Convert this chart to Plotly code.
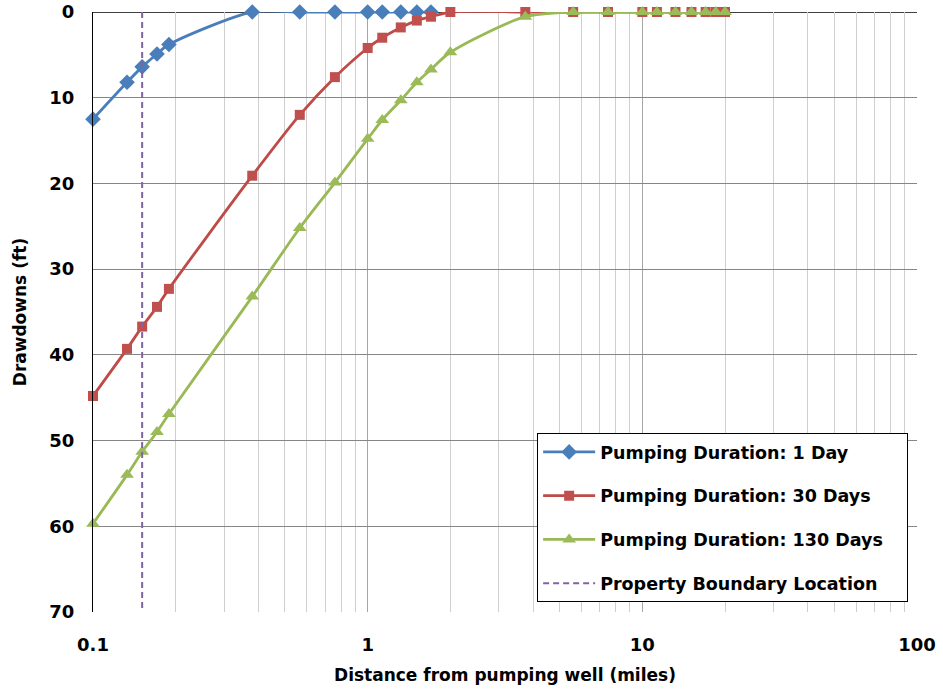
import plotly.graph_objects as go

# ---- data ----
dist_1day = [0.1, 0.133, 0.151, 0.171, 0.189, 0.38, 0.566, 0.76, 1.0, 1.13, 1.32, 1.51, 1.70]
dd_1day = [12.5, 8.2, 6.4, 4.9, 3.8, 0, 0, 0, 0, 0, 0, 0, 0]

dist_long = [0.1, 0.133, 0.151, 0.171, 0.189, 0.38, 0.566, 0.76, 1.0, 1.13, 1.32, 1.51, 1.70,
             2.0, 3.75, 5.6, 7.5, 10, 11.3, 13.2, 15.1, 17.0, 18.5, 20.0]
dd_30day = [44.8, 39.3, 36.7, 34.4, 32.3, 19.1, 12.0, 7.6, 4.2, 3.0, 1.8, 1.0, 0.55,
            0, 0, 0, 0, 0, 0, 0, 0, 0, 0, 0]
dd_130day = [59.7, 54.0, 51.3, 49.0, 46.9, 33.2, 25.2, 19.9, 14.8, 12.6, 10.3, 8.2, 6.7,
             4.7, 0.55, 0, 0, 0, 0, 0, 0, 0, 0, 0]

boundary_x = [0.151, 0.151]
boundary_y = [0, 70]

x_ticks = [0.1, 1, 10, 100]
x_tick_labels = ["0.1", "1", "10", "100"]

FONT = "DejaVu Sans"
PAD = "\u00a0\u00a0\u00a0"

fig = go.Figure()
fig.add_trace(go.Scatter(
    x=dist_1day, y=dd_1day, mode="lines+markers", name="Pumping Duration: 1 Day" + PAD,
    line=dict(color="#4A7EBB", width=2.8, shape="spline", smoothing=0.8),
    marker=dict(symbol="diamond", size=12, color="#4A7EBB"), legendgroup="a",
    cliponaxis=False))
fig.add_trace(go.Scatter(
    x=dist_long, y=dd_30day, mode="lines+markers", name="Pumping Duration: 30 Days" + PAD,
    line=dict(color="#BE4B48", width=2.8, shape="spline", smoothing=0.8),
    marker=dict(symbol="square", size=10, color="#C0504D"), legendgroup="b",
    cliponaxis=False))
fig.add_trace(go.Scatter(
    x=dist_long, y=dd_130day, mode="lines+markers", name="Pumping Duration: 130 Days" + PAD,
    line=dict(color="#98B954", width=2.8, shape="spline", smoothing=0.8),
    marker=dict(symbol="triangle-up", size=12, color="#9BBB59"), legendgroup="c",
    cliponaxis=False))
fig.add_trace(go.Scatter(
    x=boundary_x, y=boundary_y, mode="lines", name="Property Boundary Location" + PAD,
    line=dict(color="#8064A2", width=2, dash="6px,4px"), legendgroup="d"))

fig.update_layout(
    width=943, height=694,
    margin=dict(l=93, r=26, t=12, b=82, autoexpand=False),
    paper_bgcolor="white", plot_bgcolor="white",
    font=dict(family=FONT, color="black"),
    showlegend=True,
    legend=dict(
        x=0.539, y=0.2983, xanchor="left", yanchor="top",
        bgcolor="white", bordercolor="black", borderwidth=1,
        font=dict(family=FONT, size=17.5, weight="bold", color="black"),
        itemwidth=52, tracegroupgap=18, traceorder="grouped",
    ),
    xaxis=dict(
        type="log", range=[-1, 2], automargin=False, ticklabeloverflow="allow",
        tickvals=x_ticks, ticktext=x_tick_labels,
        tickfont=dict(family=FONT, size=18, weight="bold"),
        ticks="", ticklabelstandoff=20,
        showgrid=True, gridcolor="#A6A6A6", gridwidth=1,
        minor=dict(dtick="D1", showgrid=True, gridcolor="#CFCFCF", gridwidth=1, ticks=""),
        showline=False, zeroline=False,
        title=dict(text="Distance from pumping well (miles)", standoff=15,
                   font=dict(family=FONT, size=17, weight="bold")),
    ),
    yaxis=dict(
        range=[70, 0], dtick=10, tick0=0, automargin=False, ticklabeloverflow="allow",
        tickfont=dict(family=FONT, size=18, weight="bold"),
        ticks="", ticklabelstandoff=14,
        showgrid=True, gridcolor="#868686", gridwidth=1,
        showline=True, linecolor="black", linewidth=1,
        zeroline=False,
        title=dict(text="Drawdowns (ft)", standoff=18,
                   font=dict(family=FONT, size=17, weight="bold")),
    ),
    shapes=[
        dict(type="line", xref="paper", yref="y", x0=0, x1=1, y0=0, y1=0,
             line=dict(color="black", width=1.5), layer="below"),
    ],
)

fig.write_html(
    "out.html",
    config={"displayModeBar": False},
    post_script="document.body.style.margin='0';document.body.style.overflow='hidden';",
)
